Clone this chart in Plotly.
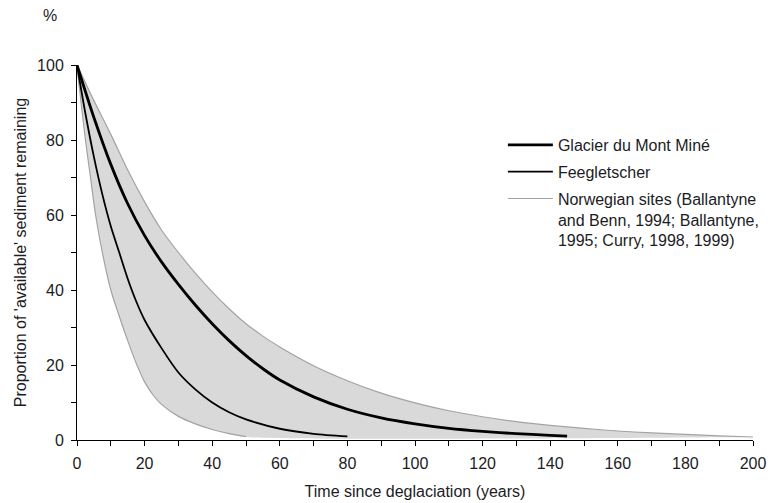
import plotly.graph_objects as go

# ---- data ----
mont_t = [0, 5, 10, 15, 20, 25, 30, 35, 40, 45, 50, 55, 60, 70, 80, 90, 100, 110, 120, 130, 140, 145]
mont_v = [100, 86, 73.5, 63, 54.5, 47.5, 41.5, 36, 31, 26.5, 22.5, 19, 16, 11.5, 8.2, 5.9, 4.3, 3.1, 2.3, 1.7, 1.25, 1.05]

feeg_t = [0, 2.5, 5, 7.5, 10, 12.5, 15, 17.5, 20, 25, 30, 35, 40, 45, 50, 60, 70, 80]
feeg_v = [100, 87, 75.5, 65.5, 57, 50, 43, 37, 32, 24.5, 18, 13.5, 10, 7.4, 5.5, 3.0, 1.65, 0.95]

norw_upper_t = [0, 5, 10, 15, 20, 25, 30, 35, 40, 45, 50, 55, 60, 70, 80, 90, 100, 110, 120, 130, 140, 150, 160, 170, 180, 190, 200]
norw_upper_v = [100, 90.5, 81.5, 72, 63.5, 56, 50, 44.5, 39.5, 35, 31, 27.7, 24.8, 19.8, 15.8, 12.5, 9.9, 7.8, 6.2, 4.9, 3.9, 3.1, 2.4, 1.9, 1.5, 1.1, 0.8]

norw_lower_t = [0, 1.2, 2.5, 4, 5.5, 7.5, 10, 12.5, 15, 17.5, 20, 22.5, 25, 30, 35, 40, 45, 50]
norw_lower_v = [100, 90, 80, 70, 60, 50, 40, 33, 26.5, 20.5, 15.5, 12, 9.5, 6.3, 4.3, 2.8, 1.7, 0.9]

band_floor_t = [50, 200]
band_floor_v = [0.8, 0.8]

x_ticks = [0, 20, 40, 60, 80, 100, 120, 140, 160, 180, 200]
y_ticks = [0, 20, 40, 60, 80, 100]

FONT = "Liberation Sans, Arial, Helvetica, sans-serif"
TXT = "#1c1c24"
FS = 16

fig = go.Figure()

# filled band: upper curve, then lower curve + floor reversed
lower_all_t = norw_lower_t + band_floor_t[1:]
lower_all_v = norw_lower_v[:-1] + [band_floor_v[0]] + band_floor_v[1:]
fig.add_trace(go.Scatter(
    x=norw_upper_t + lower_all_t[::-1],
    y=norw_upper_v + lower_all_v[::-1],
    fill="toself", fillcolor="#d9d9d9", mode="lines",
    line=dict(width=0, color="rgba(0,0,0,0)", shape="spline", smoothing=0.8),
    showlegend=False, hoverinfo="skip"))

fig.add_trace(go.Scatter(
    x=norw_upper_t, y=norw_upper_v, mode="lines",
    line=dict(color="#a3a3a3", width=1.2, shape="spline", smoothing=0.8),
    name="Norwegian sites (Ballantyne<br>and Benn, 1994; Ballantyne,<br>1995; Curry, 1998, 1999)",
    legendrank=3, legendgroup="c"))
fig.add_trace(go.Scatter(
    x=norw_lower_t, y=norw_lower_v, mode="lines",
    line=dict(color="#a3a3a3", width=1.2, shape="spline", smoothing=0.8),
    showlegend=False))

fig.add_trace(go.Scatter(
    x=feeg_t, y=feeg_v, mode="lines",
    line=dict(color="#000000", width=1.8, shape="spline", smoothing=0.8),
    name="Feegletscher", legendrank=2, legendgroup="b"))
fig.add_trace(go.Scatter(
    x=mont_t, y=mont_v, mode="lines",
    line=dict(color="#000000", width=2.8, shape="spline", smoothing=0.8),
    name="Glacier du Mont Miné", legendrank=1, legendgroup="a"))

axis_common = dict(
    showgrid=False, zeroline=False, showline=True, linecolor="#000000", linewidth=1,
    ticks="outside", ticklen=5, tickcolor="#000000", tickwidth=1, automargin=False,
    tickfont=dict(family=FONT, size=FS, color=TXT),
)

fig.update_xaxes(
    range=[0, 200], tickvals=x_ticks, ticklabelstandoff=4,
    minor=dict(dtick=10, ticks="outside", ticklen=5, tickcolor="#000000"),
    title=dict(text="Time since deglaciation (years)", font=dict(family=FONT, size=FS, color=TXT), standoff=14),
    **axis_common)
fig.update_yaxes(
    range=[0, 100], tickvals=y_ticks, ticklabelstandoff=4,
    minor=dict(dtick=10, ticks="outside", ticklen=5, tickcolor="#000000"),
    title=dict(text="Proportion of 'available' sediment remaining", font=dict(family=FONT, size=FS, color=TXT), standoff=6),
    **axis_common)

fig.add_annotation(text="%", xref="paper", yref="paper", x=-0.04, y=1.133,
                   xanchor="center", yanchor="middle",
                   showarrow=False, font=dict(family=FONT, size=FS, color=TXT))

fig.update_layout(
    width=769, height=503, autosize=False,
    margin=dict(l=77, r=16, t=65, b=63, autoexpand=False),
    paper_bgcolor="white", plot_bgcolor="white",
    font=dict(family=FONT, size=FS, color=TXT),
    legend=dict(x=0.63, y=0.832, xanchor="left", yanchor="top",
                bgcolor="rgba(0,0,0,0)", font=dict(family=FONT, size=FS, color=TXT),
                itemwidth=45, valign="top", tracegroupgap=3),
)

fig.write_html("out.html", config={"responsive": False, "displayModeBar": False},
               post_script="document.body.style.margin='0px';")
